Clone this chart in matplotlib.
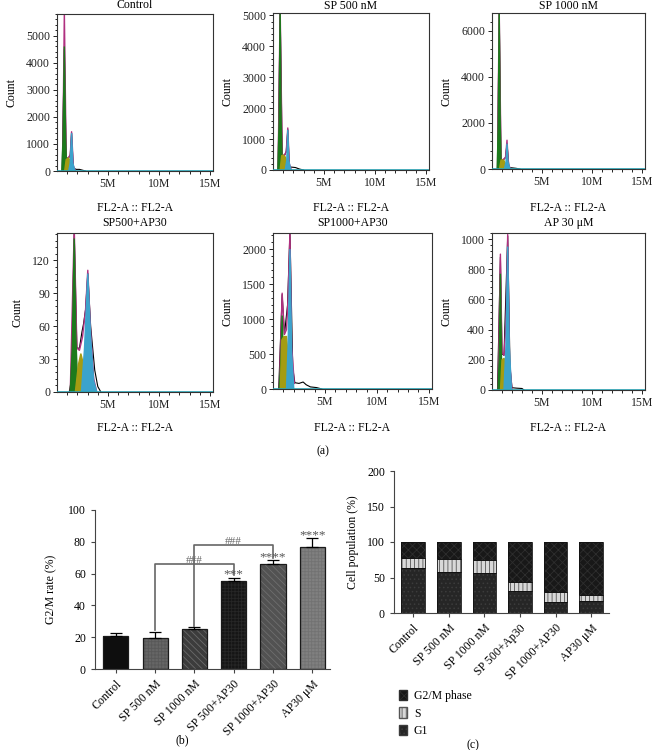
import matplotlib
matplotlib.use('Agg')
import matplotlib.pyplot as plt
from matplotlib.patches import Patch

plt.rcParams['font.family'] = ['Liberation Serif', 'DejaVu Serif']
plt.rcParams['hatch.linewidth'] = 0.6

# ---- (a) flow cytometry histograms, x in millions (FL2-A), y = count ----
hist_titles = ['Control', 'SP 500 nM', 'SP 1000 nM', 'SP500+AP30', 'SP1000+AP30', 'AP 30 μM']
hist_ymax = [5800, 5080, 6770, 145, 2230, 1040]
hist_yticks = [[0, 1000, 2000, 3000, 4000, 5000],
               [0, 1000, 2000, 3000, 4000, 5000],
               [0, 2000, 4000, 6000],
               [0, 30, 60, 90, 120],
               [0, 500, 1000, 1500, 2000],
               [0, 200, 400, 600, 800, 1000]]

g1_x = [[0.48, 0.60, 0.72, 0.84, 0.96], [0.48, 0.60, 0.70, 0.80, 0.92], [0.52, 0.63, 0.72, 0.82, 0.92],
        [1.30, 1.50, 1.69, 1.85, 2.05], [0.60, 0.75, 0.88, 1.00, 1.15], [0.60, 0.72, 0.84, 0.95, 1.10]]
g1_y = [[0, 1200, 4600, 1200, 0], [0, 1500, 5200, 1500, 0], [0, 2000, 6900, 2000, 0],
        [0, 40, 140, 50, 0], [0, 400, 1050, 400, 0], [0, 200, 770, 200, 0]]

s_x = [[0.75, 0.90, 1.10, 1.25, 1.40, 1.55], [0.70, 0.85, 1.00, 1.20, 1.35, 1.50], [0.75, 0.90, 1.05, 1.20, 1.35, 1.50],
       [1.80, 2.10, 2.34, 2.60, 2.90], [0.70, 0.85, 1.05, 1.30, 1.50, 1.65], [0.85, 1.00, 1.20, 1.40, 1.55]]
s_y = [[0, 420, 480, 420, 250, 0], [0, 460, 480, 420, 250, 0], [0, 380, 400, 360, 220, 0],
       [0, 25, 35, 25, 0], [0, 700, 750, 750, 400, 0], [0, 200, 210, 180, 0]]

g2_x = [[1.15, 1.30, 1.43, 1.55, 1.75], [1.20, 1.35, 1.45, 1.55, 1.75], [1.25, 1.40, 1.50, 1.60, 1.80],
        [2.40, 2.70, 3.02, 3.30, 3.60, 3.90], [1.30, 1.45, 1.63, 1.80, 2.00], [1.20, 1.40, 1.57, 1.72, 1.95]]
g2_y = [[0, 300, 1400, 300, 0], [0, 300, 1300, 300, 0], [0, 300, 1100, 300, 0],
        [0, 40, 108, 50, 10, 0], [0, 600, 2000, 500, 0], [0, 300, 950, 300, 0]]

fit_x = [[0.55, 0.72, 0.90, 1.10, 1.30, 1.43, 1.60, 1.80], [0.50, 0.70, 0.90, 1.10, 1.30, 1.45, 1.60, 1.80],
         [0.55, 0.72, 0.90, 1.10, 1.35, 1.50, 1.65, 1.85],
         [1.30, 1.69, 1.95, 2.20, 2.50, 2.80, 3.02, 3.30, 3.60, 3.90],
         [0.60, 0.88, 1.10, 1.30, 1.45, 1.63, 1.80, 2.05], [0.60, 0.84, 1.00, 1.20, 1.40, 1.57, 1.75, 2.00]]
fit_y = [[0, 5900, 500, 480, 600, 1450, 200, 0], [0, 5300, 500, 460, 600, 1360, 200, 0],
         [0, 7000, 420, 400, 500, 1250, 200, 0],
         [0, 150, 40, 38, 50, 75, 111, 55, 12, 0],
         [0, 1370, 780, 850, 1300, 2250, 600, 80], [0, 900, 250, 230, 450, 1030, 200, 0]]

raw_x = [[0.50, 0.72, 0.90, 1.10, 1.30, 1.43, 1.60, 1.90, 2.20, 2.50, 2.80],
         [0.50, 0.70, 0.90, 1.10, 1.30, 1.45, 1.60, 1.90, 2.20, 2.60, 3.00],
         [0.55, 0.72, 0.90, 1.10, 1.35, 1.50, 1.70, 2.00, 2.40, 2.80],
         [1.20, 1.40, 1.69, 1.95, 2.20, 2.45, 2.60, 2.80, 3.02, 3.30, 3.70, 4.00, 4.30],
         [0.55, 0.88, 1.10, 1.40, 1.63, 1.90, 2.10, 2.50, 2.90, 3.20, 3.60, 4.20, 4.70],
         [0.55, 0.84, 1.00, 1.20, 1.57, 1.80, 2.00, 2.50, 3.00, 3.20]]
raw_y = [[0, 4500, 500, 450, 600, 1400, 100, 60, 60, 30, 0],
         [0, 5200, 500, 450, 600, 1300, 100, 90, 80, 30, 0],
         [0, 6800, 420, 380, 500, 1100, 60, 50, 30, 0],
         [0, 10, 145, 40, 40, 55, 62, 75, 108, 60, 20, 5, 0],
         [0, 1350, 780, 1200, 2250, 300, 90, 80, 100, 60, 30, 20, 0],
         [0, 880, 240, 230, 1020, 150, 15, 12, 10, 0]]

# ---- (b) G2/M rate ----
groups_b = ['Control', 'SP 500 nM', 'SP 1000 nM', 'SP 500+AP30', 'SP 1000+AP30', 'AP30 μM']
g2m_rate = [21, 19.5, 25, 55.5, 66, 77]
g2m_err = [1.5, 4, 1.5, 2, 2.5, 5.5]
stars = ['', '', '', '***', '****', '****']

# ---- (c) cell population ----
groups_c = ['Control', 'SP 500 nM', 'SP 1000 nM', 'SP 500+Ap30', 'SP 1000+AP30', 'AP30 μM']
g1_pct = [64, 58, 56, 31, 15, 17]
s_pct = [14, 18, 18, 13, 15, 8]
g2m_pct = [22, 24, 26, 56, 70, 75]

W, H = 653, 750
fig = plt.figure(figsize=(W / 100, H / 100), dpi=100)
FS = 8.5


def add_ax(l, t, r, b):
    return fig.add_axes([l / W, 1 - b / H, (r - l) / W, (b - t) / H])


def ftext(x, y, s, **kw):
    fig.text(x / W, 1 - y / H, s, ha='center', va='center', **kw)


boxes = [(57, 14, 213, 171), (273, 13, 429, 170), (492, 13, 645, 169),
         (57, 233, 213, 392), (273, 233, 432, 389), (492, 233, 645, 390)]
title_y = [5, 6, 6, 223, 223, 223]
xlab_y = [208, 208, 208, 428, 428, 428]

for i, box in enumerate(boxes):
    ax = add_ax(*box)
    ax.plot(raw_x[i], raw_y[i], color='black', lw=0.8, zorder=1)
    ax.plot(fit_x[i], fit_y[i], color='#b03080', lw=1.0, zorder=1.5)
    ax.fill(g1_x[i], g1_y[i], color='#1c7a1c', zorder=2)
    ax.fill(s_x[i], s_y[i], color='#a49c12', zorder=3)
    ax.fill(g2_x[i], g2_y[i], color='#3ba3cc', zorder=4)
    ax.axhline(0, color='#2aa0b0', lw=1.2, zorder=6)
    ax.set_xlim(0, 15.3)
    ax.set_ylim(0, hist_ymax[i])
    ax.set_xticks([5, 10, 15])
    ax.set_xticklabels(['5M', '10M', '15M'])
    ax.set_xticks(range(1, 16), minor=True)
    ax.set_yticks(hist_yticks[i])
    step = hist_yticks[i][1] / 5
    ax.set_yticks([k * step for k in range(int(hist_ymax[i] / step) + 1)], minor=True)
    ax.tick_params(labelsize=FS, length=3, width=0.7, colors='#222', pad=2)
    ax.tick_params(which='minor', length=1.8, width=0.6)
    for sp in ax.spines.values():
        sp.set_color('#333')
        sp.set_linewidth(0.8)
    ax.set_ylabel('Count', fontsize=FS, labelpad=6)
    cx = (box[0] + box[2]) / 2
    ftext(cx, title_y[i], hist_titles[i], fontsize=FS)
    ftext(cx, xlab_y[i], 'FL2-A :: FL2-A', fontsize=FS)

ftext(323, 451, '(a)', fontsize=FS)

# ---- (b) ----
axb = add_ax(95, 510, 330, 669)
xb = list(range(len(groups_b)))
faces_b = ['#0e0e0e', '#666666', '#3c3c3c', '#151515', '#525252', '#808080']
hatch_b = ['', '+++++', '\\\\\\\\\\', '+++++', '\\\\\\\\\\', '+++++']
hcol_b = ['#0e0e0e', '#585858', '#6a6a6a', '#262626', '#6e6e6e', '#727272']
for x, v, fc, ht, hc in zip(xb, g2m_rate, faces_b, hatch_b, hcol_b):
    axb.bar(x, v, width=0.64, color=fc, hatch=ht, edgecolor=hc, linewidth=0, zorder=2)
axb.bar(xb, g2m_rate, width=0.64, fill=False, edgecolor='#1a1a1a', linewidth=0.9, zorder=3)
axb.errorbar(xb, g2m_rate, yerr=[[0] * 6, g2m_err], fmt='none', ecolor='black',
             elinewidth=0.9, capsize=4.5, capthick=0.9, zorder=4)
for x, v, e, s in zip(xb, g2m_rate, g2m_err, stars):
    if s:
        axb.text(x, v + e - 2.0, s, ha='center', va='bottom', fontsize=9.5, color='#555')
bc = '#666666'
axb.plot([1, 1, 3, 3], [24.5, 66, 66, 59], color=bc, lw=1.2, zorder=1)
axb.text(2, 65.3, '###', ha='center', va='bottom', fontsize=8, color=bc)
axb.plot([2, 2, 4, 4], [27, 78, 78, 69.5], color=bc, lw=1.2, zorder=1)
axb.text(3, 77.3, '###', ha='center', va='bottom', fontsize=8, color=bc)
axb.set_xlim(-0.53, 5.45)
axb.set_ylim(0, 100)
axb.set_yticks(range(0, 101, 20))
axb.set_xticks(xb)
axb.set_xticklabels(groups_b, rotation=45, ha='right', rotation_mode='anchor')
axb.tick_params(labelsize=8.5, length=3, width=0.8, color='#444')
for sp in ['left', 'bottom']:
    axb.spines[sp].set_color('#444')
axb.spines['top'].set_visible(False)
axb.spines['right'].set_visible(False)
axb.set_ylabel('G2/M rate (%)', fontsize=8.5, labelpad=8)
ftext(182, 740, '(b)', fontsize=FS)

# ---- (c) ----
axc = add_ax(394, 471, 609, 613)
xc = list(range(len(groups_c)))
bottom_s = [a for a in g1_pct]
bottom_g2 = [a + b for a, b in zip(g1_pct, s_pct)]
axc.bar(xc, g1_pct, width=0.66, color='#262626', hatch='....', edgecolor='#3c3c3c', linewidth=0)
axc.bar(xc, s_pct, bottom=bottom_s, width=0.66, color='#d8d8d8', hatch='||||', edgecolor='#555555', linewidth=0)
axc.bar(xc, g2m_pct, bottom=bottom_g2, width=0.66, color='#181818', hatch='xxxx', edgecolor='#2e2e2e', linewidth=0)
for vals, bots in [(g1_pct, [0] * 6), (s_pct, bottom_s), (g2m_pct, bottom_g2)]:
    axc.bar(xc, vals, bottom=bots, width=0.66, fill=False, edgecolor='#111', linewidth=0.6)
axc.set_xlim(-0.54, 5.5)
axc.set_ylim(0, 200)
axc.set_yticks(range(0, 201, 50))
axc.set_xticks(xc)
axc.set_xticklabels(groups_c, rotation=45, ha='right', rotation_mode='anchor')
axc.tick_params(labelsize=8.5, length=3, width=0.8, color='#444')
for sp in ['left', 'bottom']:
    axc.spines[sp].set_color('#444')
axc.spines['top'].set_visible(False)
axc.spines['right'].set_visible(False)
axc.set_ylabel('Cell population (%)', fontsize=8.5, labelpad=6)
handles = [Patch(facecolor='#181818', hatch='xxxx', edgecolor='#2e2e2e', label='G2/M phase'),
           Patch(facecolor='#d8d8d8', hatch='||||', edgecolor='#555555', label='S'),
           Patch(facecolor='#262626', hatch='....', edgecolor='#3c3c3c', label='G1')]
fig.legend(handles=handles, loc='upper left', bbox_to_anchor=(388 / W, 1 - 679 / H),
           frameon=False, fontsize=8.5, handlelength=0.7, handleheight=1.0,
           handletextpad=0.6, labelspacing=0.45)
ftext(473, 745, '(c)', fontsize=FS)

fig.savefig('out.png', dpi=100)
